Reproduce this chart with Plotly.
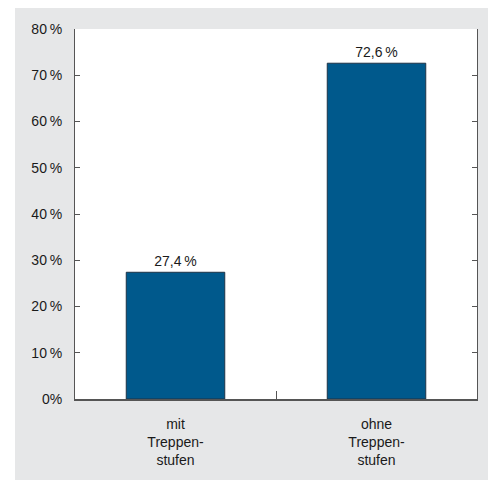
import plotly.graph_objects as go

categories = ["mit<br>Treppen-<br>stufen", "ohne<br>Treppen-<br>stufen"]
values = [27.4, 72.6]
value_labels = ["27,4\u2009%", "72,6\u2009%"]
tick_vals = [0, 10, 20, 30, 40, 50, 60, 70, 80]
tick_text = ["0%", "10\u2009%", "20\u2009%", "30\u2009%", "40\u2009%", "50\u2009%", "60\u2009%", "70\u2009%", "80\u2009%"]

fig = go.Figure()
fig.add_trace(go.Bar(
    x=categories, y=values, text=value_labels, textposition="outside",
    textfont=dict(size=14, color="#1a1a1a"),
    marker=dict(color="#00598c", line=dict(color="#1c3347", width=1)),
    cliponaxis=False, width=0.49,
))

axis_col = "#555555"
fig.update_layout(
    width=488, height=480,
    margin=dict(l=75, r=11, t=29, b=81),
    paper_bgcolor="#e6e7e8", plot_bgcolor="white",
    font=dict(family="Liberation Sans, Arial, sans-serif", size=14, color="#1a1a1a"),
    showlegend=False,
    xaxis=dict(
        showline=True, linecolor=axis_col, linewidth=1.5,
        ticks="inside", tickson="boundaries", ticklen=8, tickcolor=axis_col, tickwidth=1,
        showgrid=False, ticklabelstandoff=11,
    ),
    yaxis=dict(
        range=[0, 80], tickvals=tick_vals, ticktext=tick_text,
        showline=True, linecolor=axis_col, linewidth=1, mirror="ticks",
        ticks="inside", ticklen=5, tickcolor=axis_col, tickwidth=1,
        showgrid=False, zeroline=False, ticklabelstandoff=9,
    ),
    shapes=[
        dict(type="rect", xref="paper", yref="paper",
             x0=-75/402, x1=(15-75)/402, y0=-81/370, y1=(399)/370,
             fillcolor="white", line=dict(width=0), layer="above"),
        dict(type="rect", xref="paper", yref="paper",
             x0=-75/402, x1=413/402, y0=(399-8)/370, y1=399/370,
             fillcolor="white", line=dict(width=0), layer="above"),
    ],
)

fig.write_html("out.html")
